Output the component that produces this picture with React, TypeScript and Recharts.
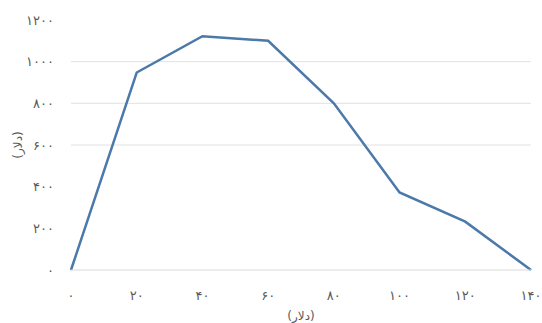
import { LineChart, Line, XAxis, YAxis, CartesianGrid, Label, ReferenceLine } from 'recharts'

// Values in dollars
const xValues = [0, 20, 40, 60, 80, 100, 120, 140]
const yValues = [0, 948, 1122, 1100, 800, 372, 232, 0]

const xTicks = [0, 20, 40, 60, 80, 100, 120, 140]
const xTickLabels = ['۰', '۲۰', '۴۰', '۶۰', '۸۰', '۱۰۰', '۱۲۰', '۱۴۰']
const yTicks = [0, 200, 400, 600, 800, 1000, 1200]
const yTickLabels = ['۰', '۲۰۰', '۴۰۰', '۶۰۰', '۸۰۰', '۱۰۰۰', '۱۲۰۰']
const gridValues = [600, 800, 1000]

const xTitle = '(دلار)'
const yTitle = '(دلار)'

const data = xValues.map((x, i) => ({ x, y: yValues[i] }))

const FONT = '"DejaVu Sans", sans-serif'
const TEXT = '#595959'
const LINE = '#4a79aa'

export default function App() {
  return (
    <div style={{ position: 'absolute', left: 0, top: 0, background: '#fff' }}>
      <LineChart
        width={542}
        height={323}
        data={data}
        margin={{ top: 20, right: 11, bottom: 0, left: 0 }}
      >
        <CartesianGrid vertical={false} horizontal={false} />
        {gridValues.map((v) => (
          <ReferenceLine key={v} y={v} stroke="#e2e2e2" />
        ))}
        <XAxis
          dataKey="x"
          type="number"
          domain={[0, 140]}
          ticks={xTicks}
          tickFormatter={(v: number) => xTickLabels[xTicks.indexOf(v)]}
          tick={{ fill: TEXT, fontSize: 13, fontFamily: FONT }}
          tickLine={false}
          tickSize={0}
          tickMargin={21}
          stroke="#d9d9d9"
          height={53}
        >
          <Label
            value={xTitle}
            position="insideBottom"
            offset={3}
            style={{ fill: TEXT, fontSize: 12, fontFamily: FONT }}
          />
        </XAxis>
        <YAxis
          type="number"
          domain={[0, 1200]}
          ticks={yTicks}
          tickFormatter={(v: number) => yTickLabels[yTicks.indexOf(v)]}
          tick={{ fill: TEXT, fontSize: 13, fontFamily: FONT }}
          tickLine={false}
          axisLine={false}
          tickSize={0}
          tickMargin={17}
          width={71}
        >
          <Label
            value={yTitle}
            angle={-90}
            position="insideLeft"
            offset={18}
            style={{ fill: TEXT, fontSize: 12, fontFamily: FONT, textAnchor: 'middle' }}
          />
        </YAxis>
        <Line
          dataKey="y"
          stroke={LINE}
          strokeWidth={2.5}
          dot={false}
          isAnimationActive={false}
        />
      </LineChart>
    </div>
  )
}
